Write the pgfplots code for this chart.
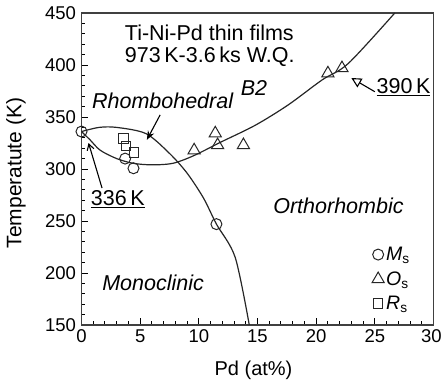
\documentclass[border=0pt]{standalone}
\usepackage{fontspec}
\setmainfont{Liberation Sans}
\usepackage{pgfplots}
\pgfplotsset{compat=1.18}
\usetikzlibrary{arrows.meta}
\begin{document}
\begin{tikzpicture}
\path[use as bounding box] (-81.5pt,-58pt) rectangle (360.5pt,325pt);
\begin{axis}[
  scale only axis, width=352pt, height=312pt,
  xmin=0, xmax=30, ymin=150, ymax=450,
  xtick={0,5,...,30}, ytick={150,200,...,450},
  xticklabels={0,5,10,15,20,25,{\hspace{-4pt}30}},
  minor x tick num=4, minor y tick num=4,
  tick pos=left, tick align=inside,
  major tick length=7pt, minor tick length=4pt,
  every tick/.style={black, line width=1pt},
  axis line style={line width=1.5pt, black!75},
  /pgf/number format/assume math mode=true,
  tick label style={font=\fontsize{18.5}{21}\selectfont},
  xticklabel style={yshift=-1pt},
  yticklabel style={xshift=-2pt},
  xlabel={Pd (at\%)},
  ylabel={Temperatute (K)},
  xlabel style={font=\fontsize{20}{23}\selectfont, at={([xshift=-4pt,yshift=-45pt]axis description cs:0.5,0)}, anchor=center},
  ylabel style={font=\fontsize{21}{24}\selectfont, at={([xshift=-65.5pt,yshift=-4pt]axis description cs:0,0.5)}, anchor=center},
  legend style={at={(axis cs:24.75,227)}, anchor=north west, draw=none, fill=none,
    font=\fontsize{19.5}{22}\selectfont, row sep=5.5pt, inner sep=0pt},
  legend cell align=left,
  legend image code/.code={\draw[mark repeat=2,mark phase=2,#1] plot coordinates {(0pt,0pt)(6pt,0pt)(12pt,0pt)};},
  clip=false,
]
% phase boundary curves
\addplot[smooth, line width=1.2pt, black!85, forget plot] coordinates {
 (0,336) (1.5,340) (3,340) (5.5,334) (7.5,315) (9,296) (10.4,272) (11.5,247) (13.1,215) (14.3,150)};
\addplot[smooth, line width=1.2pt, black!85, forget plot] coordinates {
 (0,336) (0.73,328) (1.6,318) (3,310) (4.4,305.5) (6,304) (7.8,305.5) (9.6,313) (11.9,326) (14.8,342) (17.6,361.5) (20.5,385.6) (22.75,401.6) (26.7,450)};
% data
\addplot[only marks, mark=o, mark size=5.5pt, line width=1pt, black!85, mark options={fill=white}] coordinates {
 (0,336) (3.72,310) (4.43,300.7) (11.5,247)};
\addlegendentry{\textit{M}\textsubscript{s}}
\addplot[only marks, mark=triangle, mark size=7pt, line width=1pt, black!85, mark options={fill=white}] coordinates {
 (9.6,318) (11.4,334.3) (11.6,323) (13.8,323) (21,392) (22.2,397)};
\addlegendentry{\textit{O}\textsubscript{s}}
\addplot[only marks, mark=square, mark size=4.75pt, line width=1pt, black!85, mark options={fill=white}] coordinates {
 (3.57,329.5) (3.78,322) (4.49,315.7)};
\addlegendentry{\textit{R}\textsubscript{s}}
% annotations
\node[anchor=west, font=\fontsize{21.5}{24}\selectfont] at (axis cs:3.4,430.8) {Ti-Ni-Pd thin films};
\node[anchor=west, font=\fontsize{21.5}{24}\selectfont] at (axis cs:3.4,407.7) {973\,K-3.6\,ks W.Q.};
\node[anchor=west, font=\fontsize{21.5}{24}\selectfont\itshape] at (axis cs:0.6,366) {Rhombohedral};
\node[font=\fontsize{21.5}{24}\selectfont\itshape] at (axis cs:14.7,378) {B2};
\node[font=\fontsize{21.5}{24}\selectfont\itshape] at (axis cs:21.9,265) {Orthorhombic};
\node[font=\fontsize{21.5}{24}\selectfont\itshape] at (axis cs:6.1,191) {Monoclinic};
\node[font=\fontsize{21.5}{24}\selectfont] at (axis cs:3.1,271) {\underline{336\,K}};
\node[font=\fontsize{21.5}{24}\selectfont] at (axis cs:27.45,379) {\underline{390\,K}};
\draw[line width=1.1pt, -{Stealth[length=9pt,width=7pt]}] (axis cs:6.7,352) -- (axis cs:5.57,328);
\draw[line width=1.1pt, -{Straight Barb[length=6pt,width=7pt]}] (axis cs:1.75,281.7) -- (axis cs:0.6,325);
\draw[line width=1.1pt, -{Triangle[open,length=10pt,width=10pt]}] (axis cs:25.0,374.3) -- (axis cs:23.0,387.5);
\end{axis}
\end{tikzpicture}
\end{document}
